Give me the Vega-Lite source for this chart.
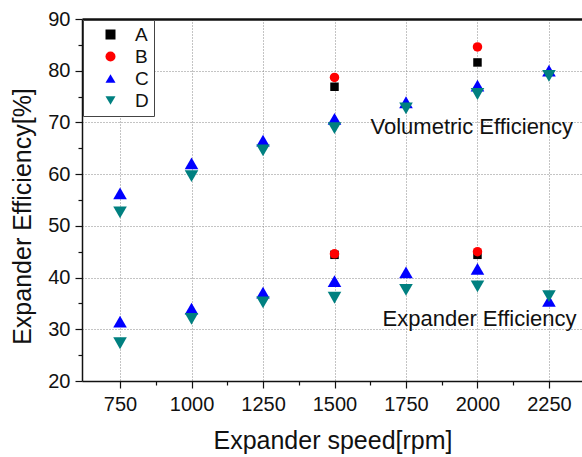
{
  "$schema": "https://vega.github.io/schema/vega-lite/v6.json",
  "autosize": {"type": "none"},
  "padding": {"left": 82, "top": 19, "right": 0, "bottom": 76},
  "width": 501,
  "height": 362,
  "config": {
    "font": "Liberation Sans",
    "view": {"stroke": null},
    "axis": {"labelColor": "#111", "titleColor": "#111", "domainColor": "#111", "tickColor": "#111", "labelFont": "Liberation Sans", "titleFont": "Liberation Sans", "titleFontWeight": "normal"}
  },
  "resolve": {"axis": {"x": "independent", "y": "independent"}},
  "layer": [
    {
      "data": {"values": [
        {"series": "A", "speed": 1500, "eff": 76.9},
        {"series": "A", "speed": 1500, "eff": 44.4},
        {"series": "A", "speed": 2000, "eff": 81.6},
        {"series": "A", "speed": 2000, "eff": 44.4},
        {"series": "B", "speed": 1500, "eff": 78.7},
        {"series": "B", "speed": 1500, "eff": 44.6},
        {"series": "B", "speed": 2000, "eff": 84.6},
        {"series": "B", "speed": 2000, "eff": 45.0},
        {"series": "C", "speed": 750, "eff": 56.3},
        {"series": "C", "speed": 1000, "eff": 62.1},
        {"series": "C", "speed": 1250, "eff": 66.5},
        {"series": "C", "speed": 1500, "eff": 70.7},
        {"series": "C", "speed": 1750, "eff": 73.9},
        {"series": "C", "speed": 2000, "eff": 77.1},
        {"series": "C", "speed": 2250, "eff": 80.0},
        {"series": "C", "speed": 750, "eff": 31.5},
        {"series": "C", "speed": 1000, "eff": 34.0},
        {"series": "C", "speed": 1250, "eff": 37.1},
        {"series": "C", "speed": 1500, "eff": 39.3},
        {"series": "C", "speed": 1750, "eff": 41.0},
        {"series": "C", "speed": 2000, "eff": 41.7},
        {"series": "C", "speed": 2250, "eff": 35.5},
        {"series": "D", "speed": 750, "eff": 52.6},
        {"series": "D", "speed": 1000, "eff": 59.6},
        {"series": "D", "speed": 1250, "eff": 64.6},
        {"series": "D", "speed": 1500, "eff": 68.9},
        {"series": "D", "speed": 1750, "eff": 72.7},
        {"series": "D", "speed": 2000, "eff": 75.5},
        {"series": "D", "speed": 2250, "eff": 79.0},
        {"series": "D", "speed": 750, "eff": 27.3},
        {"series": "D", "speed": 1000, "eff": 32.0},
        {"series": "D", "speed": 1250, "eff": 35.2},
        {"series": "D", "speed": 1500, "eff": 36.1},
        {"series": "D", "speed": 1750, "eff": 37.6},
        {"series": "D", "speed": 2000, "eff": 38.3},
        {"series": "D", "speed": 2250, "eff": 36.4}
      ]},
      "mark": {"type": "point", "filled": true, "opacity": 1, "strokeWidth": 0},
      "encoding": {
        "x": {
          "field": "speed", "type": "quantitative",
          "scale": {"domain": [617, 2369], "nice": false, "zero": false},
          "axis": {
            "orient": "bottom", "format": "d",
            "values": [750, 875, 1000, 1125, 1250, 1375, 1500, 1625, 1750, 1875, 2000, 2125, 2250],
            "labelExpr": "datum.value % 250 === 0 ? datum.label : ''",
            "labelFontSize": 20, "labelBaseline": "alphabetic", "labelPadding": 22,
            "labelFlush": false, "labelOverlap": false,
            "tickSize": {"condition": {"test": "datum.value % 250 === 0", "value": 7}, "value": 4},
            "tickWidth": 1.2,
            "domainWidth": 1.5,
            "grid": true, "gridDash": [1, 2], "gridColor": "#888", "gridWidth": 1,
            "gridOpacity": {"condition": {"test": "datum.value % 250 === 0", "value": 1}, "value": 0},
            "title": "Expander speed[rpm]", "titleFontSize": 25,
            "titleBaseline": "alphabetic", "titleY": 67
          }
        },
        "y": {
          "field": "eff", "type": "quantitative",
          "scale": {"domain": [20, 90], "nice": false, "zero": false},
          "axis": {
            "orient": "left", "format": "d",
            "values": [20, 25, 30, 35, 40, 45, 50, 55, 60, 65, 70, 75, 80, 85, 90],
            "labelExpr": "datum.value % 10 === 0 ? datum.label : ''",
            "labelFontSize": 20, "labelPadding": 5, "labelOverlap": false, "labelFlush": false,
            "tickSize": {"condition": {"test": "datum.value % 10 === 0", "value": 7}, "value": 4},
            "tickWidth": 1.2,
            "domainWidth": 1.5,
            "grid": true, "gridDash": [1, 2], "gridColor": "#888", "gridWidth": 1,
            "gridOpacity": {"condition": {"test": "datum.value % 10 === 0 && datum.value > 20 && datum.value < 90", "value": 1}, "value": 0},
            "title": "Expander Efficiency[%]", "titleFontSize": 25,
            "titleBaseline": "alphabetic", "titleX": -52, "titleY": 197, "titleAngle": -90, "titleAlign": "center"
          }
        },
        "color": {
          "field": "series", "type": "nominal",
          "scale": {"domain": ["A", "B", "C", "D"], "range": ["#000000", "#ff0000", "#0000ff", "#008080"]},
          "legend": {
            "title": null, "orient": "none", "legendX": 1, "legendY": 1,
            "padding": 5, "rowPadding": 2, "labelFontSize": 19, "labelColor": "#111",
            "symbolOffset": 13, "labelOffset": 15,
            "strokeColor": "#444", "fillColor": "white",
            "symbolStrokeWidth": 0,
            "encode": {"symbols": {"update": {"size": {"signal": "datum.value === 'C' || datum.value === 'D' ? 165 : (datum.value === 'A' ? 55 : 75)"}}}}
          }
        },
        "shape": {
          "field": "series", "type": "nominal",
          "scale": {"domain": ["A", "B", "C", "D"], "range": ["square", "circle", "triangle-up", "triangle-down"]},
          "legend": {
            "title": null, "orient": "none", "legendX": 1, "legendY": 1,
            "padding": 5, "rowPadding": 2, "labelFontSize": 19, "labelColor": "#111",
            "symbolOffset": 13, "labelOffset": 15,
            "strokeColor": "#444", "fillColor": "white",
            "symbolStrokeWidth": 0,
            "encode": {"symbols": {"update": {"size": {"signal": "datum.value === 'C' || datum.value === 'D' ? 165 : (datum.value === 'A' ? 55 : 75)"}}}}
          }
        },
        "size": {
          "condition": [
            {"test": "datum.series === 'C' || datum.series === 'D'", "value": 185},
            {"test": "datum.series === 'B'", "value": 90}
          ],
          "value": 72
        }
      }
    },
    {
      "data": {"values": [
        {"label": "Volumetric Efficiency", "speed": 1626, "eff": 67.7},
        {"label": "Expander Efficiency", "speed": 1668, "eff": 30.6}
      ]},
      "mark": {"type": "text", "align": "left", "baseline": "alphabetic", "fontSize": 22, "font": "Liberation Sans", "color": "#111"},
      "encoding": {
        "x": {
          "field": "speed", "type": "quantitative",
          "scale": {"domain": [617, 2369], "nice": false, "zero": false},
          "axis": {"orient": "top", "labels": false, "ticks": false, "grid": false, "title": null, "domainWidth": 2.5, "domainColor": "#111"}
        },
        "y": {
          "field": "eff", "type": "quantitative",
          "scale": {"domain": [20, 90], "nice": false, "zero": false},
          "axis": null
        },
        "text": {"field": "label"}
      }
    }
  ]
}
